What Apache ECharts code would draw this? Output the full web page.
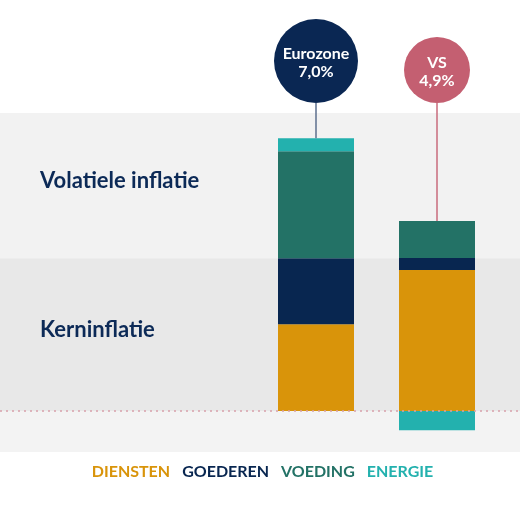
<!DOCTYPE html>
<html lang="nl">
<head>
<meta charset="UTF-8">
<script src="https://cdn.jsdelivr.net/npm/echarts@6/dist/echarts.min.js"></script>
<style>
    * { margin: 0; padding: 0; }
    body { background: #fff; }
    #chart { width: 520px; height: 506px; }
</style>
</head>
<body>
<div id="chart"></div>
<script>
    // data (percentage points)
    const regions = ['Eurozone', 'VS'];
    const totalLabels = ['7,0%', '4,9%'];
    const seriesNames = ['DIENSTEN', 'GOEDEREN', 'VOEDING', 'ENERGIE'];
    const diensten = [2.23, 3.62];
    const goederen = [1.69, 0.31];
    const voeding = [2.75, 0.95];
    const energie = [0.33, -0.49];
    const bandLabels = ['Volatiele inflatie', 'Kerninflatie'];

    const colors = ['#d9940a', '#082650', '#237266', '#23b1ae'];
    const circleColors = ['#0a2753', '#c45f71'];
    const stickColors = ['#5d6f8e', '#c96b7c'];
    const circleRadius = [42, 33];
    const circleBottom = 103;
    const navy = '#0c2a57';
    const font = 'Lato, "Open Sans", sans-serif';

    const yMin = -1.05, yMax = 7.65;
    const values = [diensten, goederen, voeding, energie];
    // top of each bar = sum of its positive parts
    const tops = regions.map((_, i) => values.reduce((s, v) => s + Math.max(v[i], 0), 0));
    const core = diensten[0] + goederen[0];

    const chart = echarts.init(document.getElementById('chart'));

    const option = {
        animation: false,
        grid: [
            {left: 0, right: 0, top: 113, bottom: 54},
            {left: 255.5, right: 22.5, top: 113, bottom: 54}
        ],
        xAxis: [
            {gridIndex: 0, type: 'value', min: 0, max: 1, show: false},
            {gridIndex: 1, type: 'category', data: regions, show: false}
        ],
        yAxis: [
            {gridIndex: 0, type: 'value', min: yMin, max: yMax, show: false},
            {gridIndex: 1, type: 'value', min: yMin, max: yMax, show: false}
        ],
        legend: {
            bottom: 21,
            left: 'center',
            icon: 'none',
            itemWidth: 0,
            itemGap: 7,
            selectedMode: false,
            textStyle: {fontFamily: font, fontSize: 16, fontWeight: 'bold', padding: 0},
            data: seriesNames.map((name, i) => ({name, textStyle: {color: colors[i]}}))
        },
        series: [
            {
                type: 'line',
                xAxisIndex: 0,
                yAxisIndex: 0,
                data: [],
                z: 1,
                silent: true,
                markArea: {
                    silent: true,
                    label: {
                        position: 'insideLeft',
                        distance: 40,
                        offset: [0, -5],
                        color: navy,
                        fontFamily: font,
                        fontSize: 22,
                        fontWeight: 'bold'
                    },
                    data: [
                        [{name: bandLabels[0], yAxis: core, itemStyle: {color: '#f2f2f2'}}, {yAxis: yMax}],
                        [{name: bandLabels[1], yAxis: 0, itemStyle: {color: '#e8e8e8'}}, {yAxis: core}],
                        [{name: '', yAxis: yMin, itemStyle: {color: '#f3f3f3'}}, {yAxis: 0}]
                    ]
                }
            },
            {
                type: 'line',
                xAxisIndex: 0,
                yAxisIndex: 0,
                data: [],
                z: 5,
                silent: true,
                markLine: {
                    silent: true,
                    symbol: 'none',
                    label: {show: false},
                    lineStyle: {color: '#d7a0ab', type: [2, 4], width: 1.5},
                    data: [{yAxis: 0}]
                }
            },
            ...seriesNames.map((name, i) => ({
                name,
                type: 'bar',
                xAxisIndex: 1,
                yAxisIndex: 1,
                stack: 'total',
                barWidth: 76,
                z: 3,
                itemStyle: {color: colors[i]},
                data: values[i]
            })),
            {
                type: 'custom',
                xAxisIndex: 1,
                yAxisIndex: 1,
                z: 6,
                data: tops.map((t, i) => [i, t]),
                renderItem: (params, api) => {
                    const i = params.dataIndex;
                    const p = api.coord([api.value(0), api.value(1)]);
                    const r = circleRadius[i];
                    const cy = circleBottom - r;
                    return {
                        type: 'group',
                        children: [
                            {
                                type: 'line',
                                shape: {x1: p[0], y1: circleBottom, x2: p[0], y2: p[1]},
                                style: {stroke: stickColors[i], lineWidth: 1.5}
                            },
                            {
                                type: 'circle',
                                shape: {cx: p[0], cy, r},
                                style: {fill: circleColors[i]}
                            },
                            {
                                type: 'text',
                                style: {
                                    x: p[0],
                                    y: cy + 1.5,
                                    text: regions[i] + '\n' + totalLabels[i],
                                    fill: '#fff',
                                    fontFamily: font,
                                    fontSize: 16,
                                    fontWeight: 'bold',
                                    lineHeight: 18,
                                    align: 'center',
                                    verticalAlign: 'middle'
                                }
                            }
                        ]
                    };
                }
            }
        ]
    };

    chart.setOption(option);
</script>
</body>
</html>
